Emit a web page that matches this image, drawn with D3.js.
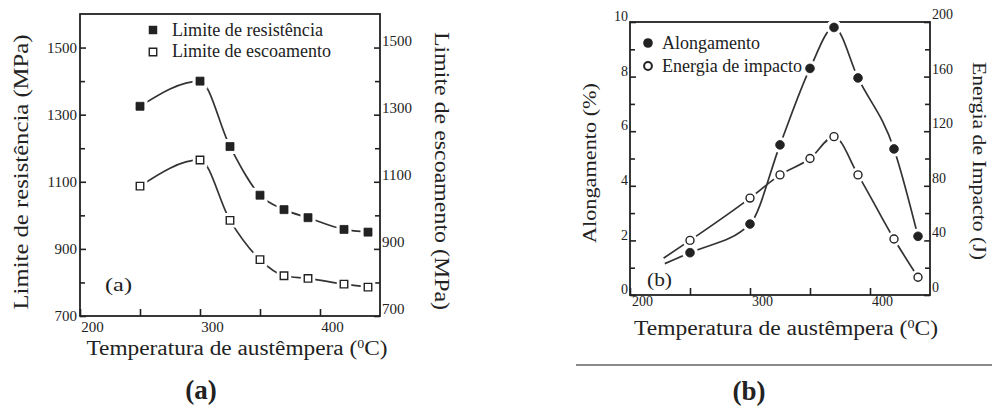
<!DOCTYPE html>
<html>
<head>
<meta charset="utf-8">
<script src="https://cdn.jsdelivr.net/npm/d3@7"></script>
<style>
  html, body { margin: 0; padding: 0; background: #fff; }
  svg { display: block; }
  text { font-family: "Liberation Serif", "Times New Roman", serif; fill: #222; }
</style>
</head>
<body>
<svg id="fig" width="992" height="408"></svg>
<script>
// Austempering temperature (°C) for each tested condition
const temperatures = [250, 300, 325, 350, 370, 390, 420, 440];

// Panel (a): tensile and yield strength (MPa)
const limiteResistencia = [1325, 1400, 1205, 1060, 1017, 993, 958, 950];
const limiteEscoamento  = [1087, 1165, 985, 868, 820, 812, 795, 786];

// Panel (b): elongation (%) and impact energy (J)
const alongamento     = [1.55, 2.6, 5.5, 8.3, 9.8, 7.95, 5.35, 2.15];
const energiaImpacto  = [40, 71, 88, 100, 116, 88, 41, 13];

// Where the fitted trend lines of panel (b) begin, left of the first sample
const tendenciaInicio = { temperatura: 229, alongamento: 1.15, energia: 27 };

// Axis ticks
const tempTicks   = [200, 300, 400];
const tempMinor   = [250, 350];
const mpaTicks    = [700, 900, 1100, 1300, 1500];
const mpaMinor    = [800, 1000, 1200, 1400];
const alongTicks  = [0, 2, 4, 6, 8, 10];
const alongMinor  = [1, 3, 5, 7, 9];
const energiaTicks = [0, 40, 80, 120, 160, 200];
const energiaMinor = [20, 60, 100, 140, 180];

const ink = "#222";
const plain = d3.format("d");
const svg = d3.select("#fig");
svg.append("rect").attr("width", 992).attr("height", 408).attr("fill", "#fff");

const lineGen = (x, y) => d3.line().x(d => x(d[0])).y(d => y(d[1])).curve(d3.curveMonotoneX);

function drawAxis(g, axis, labelDx, labelDy, fontSize) {
  g.call(axis);
  g.select(".domain").remove();
  g.selectAll(".tick line").attr("stroke", ink).attr("stroke-width", 1.6);
  g.selectAll(".tick text")
    .attr("fill", ink)
    .style("font-family", '"Liberation Serif", "Times New Roman", serif')
    .style("font-size", fontSize + "px")
    .attr("dx", labelDx).attr("dy", labelDy);
}

function frame(x, y) {
  const [x0, x1] = x.range();
  const [y0, y1] = y.range();
  svg.append("rect")
    .attr("x", x0).attr("y", y1).attr("width", x1 - x0).attr("height", y0 - y1)
    .attr("fill", "none").attr("stroke", ink).attr("stroke-width", 1.8);
}

function series(x, y, pts, shape, filled, size) {
  svg.append("path")
    .datum(pts)
    .attr("d", lineGen(x, y))
    .attr("fill", "none").attr("stroke", "#333").attr("stroke-width", 1.7);
  const markers = pts.filter(p => p[2] !== false);
  const sym = d3.symbol().type(shape === "square" ? d3.symbolSquare : d3.symbolCircle).size(size);
  // white halo leaves a small gap in the line around each marker
  svg.append("g").selectAll("path.halo").data(markers).join("path")
    .attr("transform", d => `translate(${x(d[0])},${y(d[1])})`)
    .attr("d", sym)
    .attr("fill", "#fff").attr("stroke", "#fff").attr("stroke-width", 7);
  svg.append("g").selectAll("path.mk").data(markers).join("path")
    .attr("transform", d => `translate(${x(d[0])},${y(d[1])})`)
    .attr("d", sym)
    .attr("fill", filled ? ink : "#fff")
    .attr("stroke", ink).attr("stroke-width", filled ? 0.8 : 1.4);
}

function stretchedText(txt, x, y, rot, size, len, extra) {
  const t = svg.append("text")
    .attr("transform", `translate(${x},${y}) rotate(${rot})`)
    .attr("text-anchor", "middle")
    .style("font-size", size + "px")
    .attr("textLength", len).attr("lengthAdjust", "spacingAndGlyphs");
  if (extra) extra(t); else t.text(txt);
  return t;
}

function tempTitle(t) {
  t.append("tspan").text("Temperatura de austêmpera (");
  t.append("tspan").attr("dy", -7).style("font-size", "12px").text("0");
  t.append("tspan").attr("dy", 7).text("C)");
}

// ---------------- Panel (a) ----------------
{
  const x = d3.scaleLinear().domain([200, 450]).range([80, 380]);
  const y = d3.scaleLinear().domain([700, 1600]).range([316, 14]);
  const yR = d3.scaleLinear().domain([700, 1600]).range([316, 14]);

  drawAxis(svg.append("g").attr("transform", "translate(80,0)"),
    d3.axisLeft(y).tickValues(mpaMinor).tickSize(-5).tickFormat(""), 0, 0, 15);
  drawAxis(svg.append("g").attr("transform", "translate(80,0)"),
    d3.axisLeft(y).tickValues(mpaTicks).tickSize(-6).tickPadding(3).tickFormat(plain), 0, "0.32em", 15);
  drawAxis(svg.append("g").attr("transform", "translate(380,0)"),
    d3.axisRight(yR).tickValues(mpaMinor).tickSize(-5).tickFormat(""), 0, 0, 15);
  drawAxis(svg.append("g").attr("transform", "translate(380,0)"),
    d3.axisRight(yR).tickValues(mpaTicks).tickSize(-6).tickPadding(2).tickFormat(plain), 0, "-0.15em", 15);
  drawAxis(svg.append("g").attr("transform", "translate(0,316)"),
    d3.axisBottom(x).tickValues(tempMinor).tickSize(-7).tickFormat(""), 0, 0, 15);
  drawAxis(svg.append("g").attr("transform", "translate(0,316)"),
    d3.axisBottom(x).tickValues(tempTicks).tickSize(-7).tickPadding(5).tickFormat(plain), 12, "0.71em", 15);
  frame(x, y);

  series(x, y, temperatures.map((t, i) => [t, limiteEscoamento[i]]), "square", false, 56);
  series(x, y, temperatures.map((t, i) => [t, limiteResistencia[i]]), "square", true, 64);

  // legend
  const sq = d3.symbol().type(d3.symbolSquare);
  svg.append("path").attr("transform", "translate(153,30)").attr("d", sq.size(72)).attr("fill", ink);
  svg.append("path").attr("transform", "translate(153,52)").attr("d", sq.size(56))
    .attr("fill", "#fff").attr("stroke", ink).attr("stroke-width", 1.4);
  svg.append("text").attr("x", 172).attr("y", 36).style("font-size", "18px")
    .attr("textLength", 151).attr("lengthAdjust", "spacingAndGlyphs").text("Limite de resistência");
  svg.append("text").attr("x", 172).attr("y", 57).style("font-size", "18px")
    .attr("textLength", 159).attr("lengthAdjust", "spacingAndGlyphs").text("Limite de escoamento");

  svg.append("text").attr("x", 105).attr("y", 291).style("font-size", "19px")
    .attr("textLength", 27).attr("lengthAdjust", "spacingAndGlyphs").text("(a)");

  stretchedText("Limite de resistência (MPa)", 28, 172, -90, 21, 275);
  stretchedText("Limite de escoamento (MPa)", 435, 171, 90, 20, 278);
  stretchedText(null, 237, 355, 0, 20, 301, tempTitle);

  svg.append("text").attr("x", 201).attr("y", 399).attr("text-anchor", "middle")
    .style("font-size", "27px").style("font-weight", "bold").text("(a)");
}

// ---------------- Panel (b) ----------------
{
  const x = d3.scaleLinear().domain([200, 450]).range([630, 930]);
  const y = d3.scaleLinear().domain([0, 10]).range([295, 22]);
  const yR = d3.scaleLinear().domain([0, 200]).range([295, 22]);

  drawAxis(svg.append("g").attr("transform", "translate(630,0)"),
    d3.axisLeft(y).tickValues(alongMinor).tickSize(-5).tickFormat(""), 0, 0, 14);
  drawAxis(svg.append("g").attr("transform", "translate(630,0)"),
    d3.axisLeft(y).tickValues(alongTicks).tickSize(-6).tickPadding(2).tickFormat(plain), 0, "-0.1em", 14);
  drawAxis(svg.append("g").attr("transform", "translate(930,0)"),
    d3.axisRight(yR).tickValues(energiaMinor).tickSize(-5).tickFormat(""), 0, 0, 14);
  drawAxis(svg.append("g").attr("transform", "translate(930,0)"),
    d3.axisRight(yR).tickValues(energiaTicks).tickSize(-6).tickPadding(2).tickFormat(plain), 0, "-0.25em", 14);
  drawAxis(svg.append("g").attr("transform", "translate(0,295)"),
    d3.axisBottom(x).tickValues(tempMinor).tickSize(-7).tickFormat(""), 0, 0, 14);
  drawAxis(svg.append("g").attr("transform", "translate(0,295)"),
    d3.axisBottom(x).tickValues(tempTicks).tickSize(-7).tickPadding(1).tickFormat(plain), 12, "0.71em", 14);
  frame(x, y);

  const leadA = [tendenciaInicio.temperatura, tendenciaInicio.alongamento, false];
  const leadE = [tendenciaInicio.temperatura - 1, tendenciaInicio.energia, false];
  series(x, yR, [leadE].concat(temperatures.map((t, i) => [t, energiaImpacto[i]])), "circle", false, 50);
  series(x, y, [leadA].concat(temperatures.map((t, i) => [t, alongamento[i]])), "circle", true, 60);

  // legend
  svg.append("circle").attr("cx", 648).attr("cy", 43).attr("r", 4.8).attr("fill", ink);
  svg.append("circle").attr("cx", 648).attr("cy", 66).attr("r", 3.9)
    .attr("fill", "#fff").attr("stroke", ink).attr("stroke-width", 2);
  svg.append("text").attr("x", 662).attr("y", 49).style("font-size", "18px")
    .attr("textLength", 98).attr("lengthAdjust", "spacingAndGlyphs").text("Alongamento");
  svg.append("text").attr("x", 662).attr("y", 72).style("font-size", "18px")
    .attr("textLength", 140).attr("lengthAdjust", "spacingAndGlyphs").text("Energia de impacto");

  svg.append("text").attr("x", 647).attr("y", 286).style("font-size", "19px")
    .attr("textLength", 25).attr("lengthAdjust", "spacingAndGlyphs").text("(b)");

  stretchedText("Alongamento (%)", 596, 163, -90, 19, 160);
  stretchedText("Energia de Impacto (J)", 973, 161, 90, 18, 198);
  stretchedText(null, 786, 335, 0, 20, 304, tempTitle);

  // separator rule under panel (b)
  svg.append("line").attr("x1", 576).attr("x2", 992).attr("y1", 365).attr("y2", 365)
    .attr("stroke", "#8a8a8a").attr("stroke-width", 2);

  svg.append("text").attr("x", 749).attr("y", 400).attr("text-anchor", "middle")
    .style("font-size", "27px").style("font-weight", "bold").text("(b)");
}
</script>
</body>
</html>
